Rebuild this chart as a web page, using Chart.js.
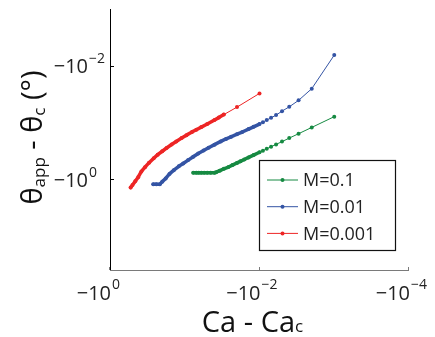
<!DOCTYPE html>
<html lang="en">
  <head>
    <meta charset="UTF-8" />
    <title>Contact angle vs Ca - Ca_c</title>
    <script src="https://cdn.jsdelivr.net/npm/chart.js"></script>
    <style>
      html, body { margin: 0; padding: 0; background: #fff; }
      canvas { display: block; }
    </style>
  </head>
  <body>
    <canvas id="chart" width="435" height="337"></canvas>
    <script>
      // values (both axes are negative, log scaled)
      const caGreen = [-0.001, -0.002, -0.003, -0.004, -0.005, -0.006, -0.007, -0.008, -0.009, -0.010,
        -0.012, -0.014, -0.016, -0.018, -0.020, -0.023, -0.026, -0.030, -0.034, -0.038,
        -0.040, -0.045, -0.050, -0.055, -0.060, -0.065, -0.070, -0.077];
      const thetaGreen = [-0.0791, -0.1225, -0.158, -0.189, -0.218, -0.244, -0.268, -0.292, -0.315, -0.336,
        -0.376, -0.414, -0.451, -0.485, -0.518, -0.566, -0.612, -0.658, -0.708, -0.755,
        -0.774, -0.774, -0.774, -0.774, -0.774, -0.774, -0.774, -0.774];

      const caBlue = [-0.001, -0.002, -0.003, -0.004, -0.005, -0.006, -0.007, -0.008, -0.009, -0.010,
        -0.012, -0.014, -0.017, -0.020, -0.024, -0.028, -0.033, -0.040, -0.048, -0.056,
        -0.066, -0.077, -0.090, -0.105, -0.120, -0.140, -0.160, -0.180, -0.200, -0.215,
        -0.240, -0.264];
      const thetaBlue = [-0.0065, -0.0254, -0.0408, -0.0531, -0.0632, -0.0743, -0.0829, -0.0910, -0.0988, -0.107,
        -0.1196, -0.131, -0.1476, -0.1614, -0.1795, -0.1954, -0.2163, -0.2463, -0.279, -0.312,
        -0.352, -0.403, -0.462, -0.531, -0.594, -0.694, -0.809, -0.972, -1.107, -1.225,
        -1.225, -1.225];

      const caRed = [-0.01, -0.02, -0.030, -0.035, -0.040, -0.050, -0.060, -0.070, -0.080, -0.095,
        -0.110, -0.130, -0.150, -0.175, -0.200, -0.230, -0.260, -0.300, -0.340, -0.380,
        -0.420, -0.460, -0.500, -0.530];
      const thetaRed = [-0.0308, -0.0537, -0.0728, -0.0822, -0.0907, -0.1067, -0.121, -0.1346, -0.147, -0.1675,
        -0.1884, -0.2163, -0.245, -0.2826, -0.322, -0.370, -0.428, -0.512, -0.614, -0.731,
        -0.922, -1.094, -1.27, -1.41];

      const seriesLabels = ["M=0.1", "M=0.01", "M=0.001"];
      const xTicks = [-1, -0.01, -0.0001];
      const yTicks = [-0.01, -1];

      const colors = ["#168a42", "#3454a4", "#ed2525"];
      const fontName = "'Open Sans', sans-serif";

      function toPoints(xs, ys) {
        return xs.map((x, i) => ({ x: -x, y: -ys[i] }));
      }

      // sampling is so dense on the left part that markers merge into a thick line
      function makeSet(label, xs, ys, color, denseFrom) {
        return {
          label: label,
          data: toPoints(xs, ys),
          borderColor: color,
          backgroundColor: color,
          pointBackgroundColor: color,
          pointBorderWidth: 0,
          pointRadius: 2,
          borderWidth: 1,
          borderCapStyle: "round",
          borderJoinStyle: "round",
          segment: {
            borderWidth: (ctx) => (ctx.p0DataIndex >= denseFrom ? 3.5 : 1),
          },
        };
      }

      function expLabel(v) {
        const e = Math.round(Math.log10(-v));
        return e === 0 ? "0" : "\u2212" + Math.abs(e);
      }

      const axesPlugin = {
        id: "matlabAxes",
        afterDraw(chart) {
          const { ctx, chartArea: a, scales } = chart;
          ctx.save();

          // axis lines
          ctx.lineWidth = 1;
          ctx.strokeStyle = "#000";
          ctx.beginPath();
          ctx.moveTo(a.left + 0.5, a.top);
          ctx.lineTo(a.left + 0.5, a.bottom);
          ctx.stroke();
          ctx.strokeStyle = "#7a7a7a";
          ctx.beginPath();
          ctx.moveTo(a.left, a.bottom + 0.5);
          ctx.lineTo(a.right, a.bottom + 0.5);
          ctx.stroke();

          // x ticks + labels
          ctx.fillStyle = "#222";
          ctx.textBaseline = "alphabetic";
          xTicks.forEach((v) => {
            const px = scales.x.getPixelForValue(-v);
            ctx.strokeStyle = "#7a7a7a";
            ctx.beginPath();
            ctx.moveTo(Math.round(px) - 0.5, a.bottom);
            ctx.lineTo(Math.round(px) - 0.5, a.bottom - 3);
            ctx.stroke();
            ctx.font = "20px " + fontName;
            ctx.textAlign = "right";
            ctx.fillText("\u221210", px + 1, a.bottom + 30);
            ctx.font = "14px " + fontName;
            ctx.textAlign = "left";
            ctx.fillText(expLabel(v), px + 2, a.bottom + 19);
          });

          // y ticks + labels
          yTicks.forEach((v) => {
            const py = scales.y.getPixelForValue(-v);
            ctx.strokeStyle = "#000";
            ctx.beginPath();
            ctx.moveTo(a.left, Math.round(py) + 0.5);
            ctx.lineTo(a.left + 4, Math.round(py) + 0.5);
            ctx.stroke();
            ctx.font = "20px " + fontName;
            ctx.textAlign = "right";
            ctx.fillText("\u221210", a.left - 22, py + 7.5);
            ctx.font = "14px " + fontName;
            ctx.textAlign = "left";
            ctx.fillText(expLabel(v), a.left - 21, py - 2.5);
          });

          // x title: Ca - Ca_c
          ctx.fillStyle = "#111";
          ctx.textAlign = "left";
          ctx.font = "29px " + fontName;
          const main = "Ca - Ca";
          const wMain = ctx.measureText(main).width;
          ctx.font = "17px " + fontName;
          const wSub = ctx.measureText("c").width;
          let x0 = 252.5 - (wMain + wSub) / 2;
          ctx.font = "29px " + fontName;
          ctx.fillText(main, x0, 331.5);
          ctx.font = "17px " + fontName;
          ctx.fillText("c", x0 + wMain, 331.5);

          // y title: θ_app - θ_c (°), rotated
          const parts = [
            ["\u03b8", 29, 0],
            ["app", 17, 3],
            [" - \u03b8", 29, 0],
            ["c", 17, 3],
            [" (\u00b0)", 29, 0],
          ];
          let total = 0;
          parts.forEach((p) => {
            ctx.font = p[1] + "px " + fontName;
            total += ctx.measureText(p[0]).width;
          });
          ctx.save();
          ctx.translate(42, 137.5);
          ctx.rotate(-Math.PI / 2);
          let cx = -total / 2;
          parts.forEach((p) => {
            ctx.font = p[1] + "px " + fontName;
            ctx.fillText(p[0], cx, p[2]);
            cx += ctx.measureText(p[0]).width;
          });
          ctx.restore();

          // legend box
          const lx = 259.5, ly = 160.5, lw = 136, lh = 90;
          ctx.fillStyle = "#fff";
          ctx.fillRect(lx, ly, lw, lh);
          ctx.strokeStyle = "#111";
          ctx.lineWidth = 1.2;
          ctx.strokeRect(lx, ly, lw, lh);
          chart.data.datasets.forEach((ds, i) => {
            const y = 180 + i * 26.7;
            ctx.strokeStyle = ds.borderColor;
            ctx.lineWidth = 1;
            ctx.beginPath();
            ctx.moveTo(267, y);
            ctx.lineTo(298, y);
            ctx.stroke();
            ctx.fillStyle = ds.borderColor;
            ctx.beginPath();
            ctx.arc(282.5, y, 2, 0, Math.PI * 2);
            ctx.fill();
            ctx.fillStyle = "#222";
            ctx.font = "18px " + fontName;
            ctx.textAlign = "left";
            ctx.textBaseline = "middle";
            ctx.fillText(ds.label, 303, y + 1);
            ctx.textBaseline = "alphabetic";
          });

          ctx.restore();
        },
      };

      new Chart(document.getElementById("chart"), {
        type: "line",
        data: {
          datasets: [
            makeSet(seriesLabels[0], caGreen, thetaGreen, colors[0], 9),
            makeSet(seriesLabels[1], caBlue, thetaBlue, colors[1], 9),
            makeSet(seriesLabels[2], caRed, thetaRed, colors[2], 2),
          ],
        },
        options: {
          responsive: false,
          devicePixelRatio: 1,
          animation: false,
          layout: { padding: { left: 110, top: 9, right: 26, bottom: 67 } },
          scales: {
            x: { type: "logarithmic", reverse: true, min: 1e-4, max: 1, display: false },
            y: { type: "logarithmic", reverse: true, min: 1e-3, max: 40, display: false },
          },
          plugins: { legend: { display: false }, tooltip: { enabled: false } },
        },
        plugins: [axesPlugin],
      });
    </script>
  </body>
</html>
